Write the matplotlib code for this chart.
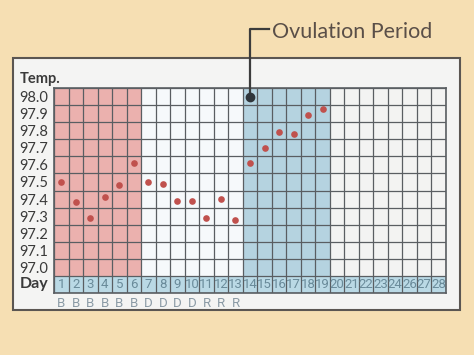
import matplotlib
matplotlib.use('Agg')
import matplotlib.pyplot as plt
from matplotlib.patches import Rectangle

# chart data
days = list(range(1, 20))
temps = [97.50, 97.38, 97.29, 97.41, 97.48, 97.61, 97.50, 97.49, 97.39, 97.39,
         97.29, 97.40, 97.28, 97.61, 97.70, 97.79, 97.78, 97.89, 97.93]
ovulation_day = 14
ovulation_temp = 98.0
temp_ticks = [98.0, 97.9, 97.8, 97.7, 97.6, 97.5, 97.4, 97.3, 97.2, 97.1, 97.0]
day_labels = [str(d) for d in range(1, 25)] + ['26', '27', '28']
phase_letters = ['B'] * 6 + ['D'] * 4 + ['R'] * 3
pink_days = (1, 6)
blue_days = (14, 19)

W, H = 474, 355
fig = plt.figure(figsize=(W / 100, H / 100), dpi=100)
fig.patch.set_facecolor('#f6dfb3')
plt.rcParams['font.family'] = ['Lato', 'DejaVu Sans']

# white card behind the chart
card = Rectangle((13 / W, 1 - 310 / H), 447 / W, 252 / H, transform=fig.transFigure,
                 facecolor='#f4f4f3', edgecolor='#5b5652', lw=1.5, zorder=-5)
fig.patches.append(card)

ax = fig.add_axes([54 / W, 1 - 293 / H, 392 / W, 205 / H], zorder=2)
ncol = len(day_labels)
ax.set_xlim(0.5, ncol + 0.5)
ax.set_ylim(96.85, 98.05)
ax.set_facecolor('#f3f3f2')

top, bot = 98.05, 96.95
ax.add_patch(Rectangle((0.5, bot), 13, top - bot, facecolor='#f6f9fb', lw=0, zorder=0))
ax.add_patch(Rectangle((pink_days[0] - 0.5, bot), pink_days[1] - pink_days[0] + 1, top - bot,
                       facecolor='#ebb1ae', lw=0, zorder=0))
ax.add_patch(Rectangle((blue_days[0] - 0.5, bot), blue_days[1] - blue_days[0] + 1, top - bot,
                       facecolor='#b5d3e0', lw=0, zorder=0))
ax.add_patch(Rectangle((0.5, 96.85), ncol, 0.1, facecolor='#bad9e5', lw=0, zorder=0))

# grid
for k in range(ncol + 1):
    ax.axvline(0.5 + k, color='#5a5e62', lw=0.9, zorder=1)
for k in range(13):
    ax.axhline(96.85 + 0.1 * k, color='#5a5e62', lw=0.9, zorder=1)
for s in ax.spines.values():
    s.set_color('#5a5e62')
    s.set_linewidth(1.2)

ax.set_xticks([])
ax.set_yticks(temp_ticks)
ax.set_yticklabels([f'{t:.1f}' for t in temp_ticks], fontsize=10.5, color='#3a3a3a')
ax.tick_params(axis='y', length=0, pad=4)

for i, lab in enumerate(day_labels):
    ax.text(i + 1, 96.9, lab, ha='center', va='center', fontsize=9.5,
            family='Roboto', color='#6a8b9a', zorder=3)
for i, lab in enumerate(phase_letters):
    ax.text(i + 1, 96.79, lab, ha='center', va='center', fontsize=9.5,
            family='Roboto', color='#8b9ba6', clip_on=False)

ax.text(-0.9, 96.9, 'Day', ha='center', va='center', fontsize=11.5, fontweight='bold',
        color='#3a3a3a')
ax.text(-1.85, 98.1, 'Temp.', ha='left', va='center', fontsize=10.5, fontweight='bold',
        color='#3a3a3a', clip_on=False)

ax.plot(days, temps, 'o', color='#c0514d', ms=4.8, mew=0, zorder=4)

# ovulation marker and leader line
ax.plot([ovulation_day, ovulation_day, 15.3], [ovulation_temp, 98.395, 98.395],
        color='#3c3c3c', lw=1.6, clip_on=False, zorder=4)
ax.plot([ovulation_day], [ovulation_temp], 'o', color='#30363b', ms=6, zorder=5)
ax.text(15.5, 98.38, 'Ovulation Period', ha='left', va='center', fontsize=15.5,
        color='#5a4f48', clip_on=False)

fig.savefig('out.png', dpi=100, facecolor=fig.get_facecolor())
